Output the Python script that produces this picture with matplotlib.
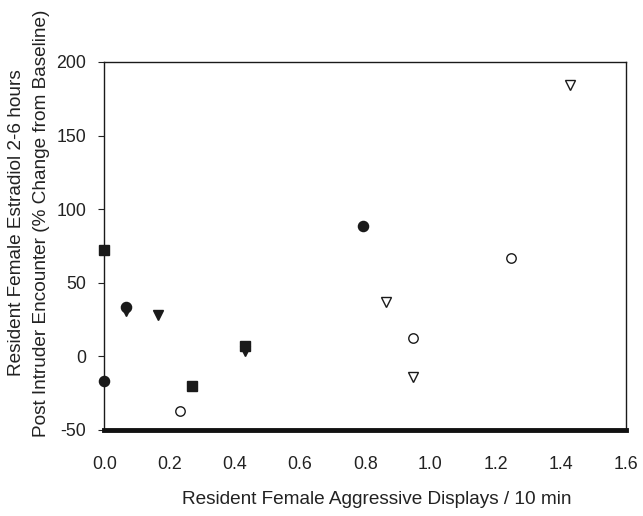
import matplotlib
matplotlib.use("Agg")
import matplotlib.pyplot as plt

plt.rcParams['font.family'] = ['Liberation Sans', 'DejaVu Sans']

# Data (x: aggressive displays / 10 min, y: % change from baseline)
filled_circle_x = [0.065, 0.0, 0.793]
filled_circle_y = [33.4, -16.4, 88.8]
filled_square_x = [0.0, 0.268, 0.431]
filled_square_y = [72.3, -19.8, 7.0]
filled_tri_x = [0.065, 0.165, 0.431]
filled_tri_y = [31.1, 28.1, 3.6]
open_circle_x = [0.232, 0.946, 1.246]
open_circle_y = [-36.8, 12.8, 66.8]
open_tri_x = [0.865, 0.946, 1.429]
open_tri_y = [37.0, -13.7, 184.4]

x_ticks = [0.0, 0.2, 0.4, 0.6, 0.8, 1.0, 1.2, 1.4, 1.6]
x_tick_labels = ["0.0", "0.2", "0.4", "0.6", "0.8", "1.0", "1.2", "1.4", "1.6"]
y_ticks = [-50, 0, 50, 100, 150, 200]
y_tick_labels = ["-50", "0", "50", "100", "150", "200"]

fig = plt.figure(figsize=(6.43, 5.16), dpi=100)
ax = fig.add_axes([0.1625, 0.1667, 0.811, 0.7132])

ax.plot(filled_circle_x, filled_circle_y, 'o', color='#1a1a1a', ms=7.3, ls='none', clip_on=False, zorder=3)
ax.plot(filled_square_x, filled_square_y, 's', color='#1a1a1a', ms=6.8, ls='none', clip_on=False, zorder=3)
ax.plot(filled_tri_x, filled_tri_y, 'v', color='#1a1a1a', ms=7.8, ls='none', clip_on=False, zorder=3)
ax.plot(open_circle_x, open_circle_y, 'o', mfc='white', mec='#1a1a1a', mew=1.0, ms=6.8, ls='none', clip_on=False, zorder=3)
ax.plot(open_tri_x, open_tri_y, 'v', mfc='white', mec='#1a1a1a', mew=1.0, ms=7.2, ls='none', clip_on=False, zorder=3)

ax.set_xlim(0, 1.6)
ax.set_ylim(-50, 200)
ax.set_xticks(x_ticks)
ax.set_xticklabels(x_tick_labels)
ax.set_yticks(y_ticks)
ax.set_yticklabels(y_tick_labels)

for s in ['top', 'right', 'left']:
    ax.spines[s].set_linewidth(1.0)
    ax.spines[s].set_color('#1a1a1a')
ax.spines['bottom'].set_linewidth(3.5)
ax.spines['bottom'].set_color('#111111')

ax.tick_params(axis='x', length=0, pad=19, labelsize=12.8, colors='#222222')
ax.tick_params(axis='y', length=4, width=0.8, pad=9, labelsize=12.8, colors='#222222')

ax.set_xlabel("Resident Female Aggressive Displays / 10 min", fontsize=13.7, color='#222222')
ax.xaxis.set_label_coords(0.5216, -0.165)
ax.set_ylabel("Resident Female Estradiol 2-6 hours\nPost Intruder Encounter (% Change from Baseline)",
              fontsize=13.7, color='#222222', linespacing=1.65)
ax.yaxis.set_label_coords(-0.1036, 0.5625)

fig.savefig("out.png", dpi=100)
